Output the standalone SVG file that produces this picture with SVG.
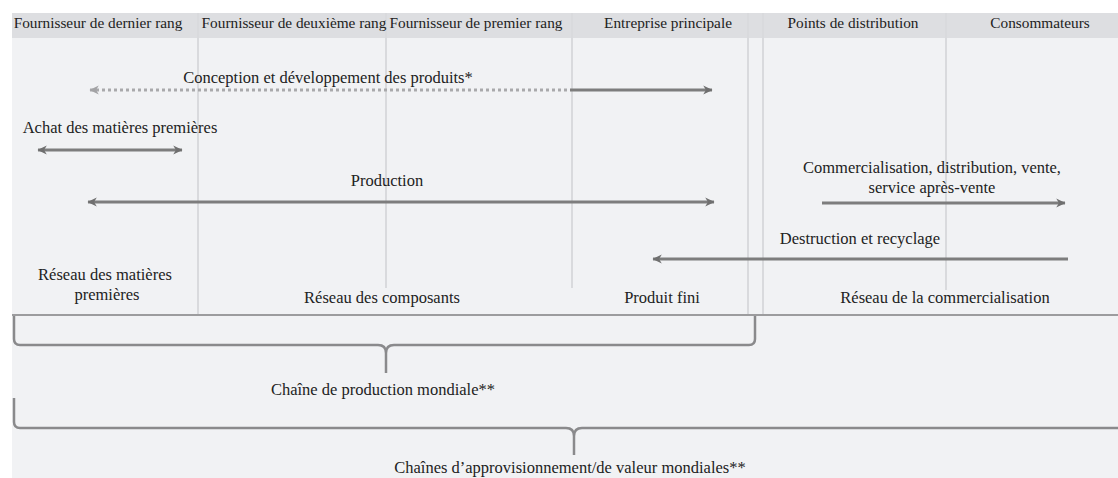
<svg xmlns="http://www.w3.org/2000/svg" width="1118" height="478" viewBox="0 0 1118 478">
  <style>
    text { font-family: "Liberation Serif", "Times New Roman", serif; fill: #222; }
    .hd { font-size: 15.3px; text-anchor: middle; }
    .lb { font-size: 16.5px; text-anchor: middle; }
    .col { stroke: #d9dadd; stroke-width: 2; fill: none; }
    .arr { stroke: #7d7d7d; stroke-width: 3; fill: none; }
    .dash { stroke: #a9a9ab; stroke-width: 3; fill: none; stroke-dasharray: 3 3; }
    .br { stroke: #8a8a8c; stroke-width: 2.5; fill: none; }
  </style>
  <defs>
    <marker id="ah" viewBox="0 0 10 10" refX="9" refY="5" markerWidth="11" markerHeight="11" markerUnits="userSpaceOnUse" orient="auto-start-reverse">
      <path d="M1,1 L9.5,5 L1,9 L3.5,5 z" fill="#6f6f6f"/>
    </marker>
    <marker id="ahl" viewBox="0 0 10 10" refX="9" refY="5" markerWidth="11" markerHeight="11" markerUnits="userSpaceOnUse" orient="auto-start-reverse">
      <path d="M1,1 L9.5,5 L1,9 L3.5,5 z" fill="#a3a3a5"/>
    </marker>
  </defs>

  <g id="background">
    <rect x="0" y="0" width="1118" height="478" fill="#ffffff"/>
    <rect x="12" y="13" width="1106" height="465" fill="#f1f2f4"/>
    <rect x="12" y="13" width="1106" height="25" fill="#dddee1"/>
    <line class="col" x1="198" y1="13" x2="198" y2="314"/>
    <line class="col" x1="386" y1="13" x2="386" y2="288"/>
    <line class="col" x1="572" y1="13" x2="572" y2="288"/>
    <line class="col" x1="748" y1="13" x2="748" y2="314"/>
    <line class="col" x1="763" y1="13" x2="763" y2="314"/>
    <line class="col" x1="946" y1="13" x2="946" y2="290"/>
    <line x1="12" y1="315" x2="1118" y2="315" stroke="#9c9c9e" stroke-width="2"/>
  </g>

  <g id="headers">
    <text class="hd" x="98" y="28">Fournisseur de dernier rang</text>
    <text class="hd" x="294" y="28">Fournisseur de deuxième rang</text>
    <text class="hd" x="476" y="28">Fournisseur de premier rang</text>
    <text class="hd" x="668" y="28">Entreprise principale</text>
    <text class="hd" x="853" y="28">Points de distribution</text>
    <text class="hd" x="1040" y="28">Consommateurs</text>
  </g>

  <g id="node-conception"><text class="lb" x="328" y="83">Conception et développement des produits*</text></g>
  <g id="node-achat"><text class="lb" x="120" y="133">Achat des matières premières</text></g>
  <g id="node-production"><text class="lb" x="387" y="186">Production</text></g>
  <g id="node-commercialisation">
    <text class="lb" x="932" y="173">Commercialisation, distribution, vente,</text>
    <text class="lb" x="932" y="193">service après-vente</text>
  </g>
  <g id="node-destruction"><text class="lb" x="860" y="244">Destruction et recyclage</text></g>
  <g id="node-reseau-matieres">
    <text class="lb" x="105" y="280">Réseau des matières</text>
    <text class="lb" x="107" y="300">premières</text>
  </g>
  <g id="node-reseau-composants"><text class="lb" x="382" y="303">Réseau des composants</text></g>
  <g id="node-produit-fini"><text class="lb" x="662" y="303">Produit fini</text></g>
  <g id="node-reseau-commercialisation"><text class="lb" x="945" y="303">Réseau de la commercialisation</text></g>
  <g id="node-chaine-production"><text class="lb" x="383" y="395">Chaîne de production mondiale**</text></g>
  <g id="node-chaines-valeur"><text class="lb" x="570" y="473">Chaînes d’approvisionnement/de valeur mondiales**</text></g>

  <g id="connectors">
    <line class="dash" x1="90" y1="90" x2="570" y2="90" marker-start="url(#ahl)"/>
    <line class="arr" x1="570" y1="90" x2="712" y2="90" marker-end="url(#ah)"/>
    <line class="arr" x1="38" y1="150" x2="182" y2="150" marker-start="url(#ah)" marker-end="url(#ah)"/>
    <line class="arr" x1="88" y1="202" x2="714" y2="202" marker-start="url(#ah)" marker-end="url(#ah)"/>
    <line class="arr" x1="822" y1="203" x2="1065" y2="203" marker-end="url(#ah)"/>
    <line class="arr" x1="1068" y1="259" x2="653" y2="259" marker-end="url(#ah)"/>
    <path class="br" d="M14,316 V339 Q14,345 20,345 H378 Q386,345 386,353 V373 M386,353 Q386,345 394,345 H749 Q755,345 755,339 V316"/>
    <path class="br" d="M14,398 V422 Q14,428 20,428 H566 Q574,428 574,436 V455 M574,436 Q574,428 582,428 H1118"/>
  </g>
</svg>
